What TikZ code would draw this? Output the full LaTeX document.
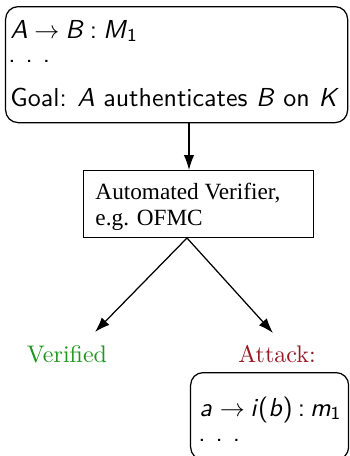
\documentclass[tikz,border=0pt]{standalone}
\usepackage{fontspec}
\newfontfamily\tnr{Liberation Serif}
\usetikzlibrary{arrows.meta}
\definecolor{vgreen}{RGB}{30,150,30}
\definecolor{ared}{RGB}{150,25,35}
\newcommand{\mv}[1]{\textit{#1}}
\newcommand{\sfsize}{\sffamily\fontsize{10.4}{12}\selectfont}
\newcommand{\mydots}{.\hspace{4pt}.\hspace{4pt}.}
\begin{document}
\begin{tikzpicture}[x=0.4pt,y=-0.4pt,
  rbox/.style={draw,line width=0.5pt,rounded corners=5pt,inner sep=0pt,anchor=north west},
  sbox/.style={draw,line width=0.5pt,inner sep=0pt,anchor=north west},
  sftext/.style={anchor=base west,inner sep=0pt,font=\sfsize},
  rmtext/.style={anchor=base west,inner sep=0pt,font=\tnr\fontsize{9.3}{11}\selectfont},
  lbl/.style={anchor=base,inner sep=0pt,font=\fontsize{9.6}{11}\selectfont},
  arr/.style={line width=0.5pt,-{Latex[length=6pt,width=4.2pt]}}]
\useasboundingbox (0,0) rectangle (350,456);
% top box
\node[rbox,minimum width=136.8pt,minimum height=46.4pt] (top) at (5,6) {};
\node[sftext] (t1) at (10,38) {\mv{A}\hspace{2.6pt}$\rightarrow$\hspace{2.4pt}\mv{B}\hspace{2.4pt}:\hspace{2.4pt}\mv{M}\textsubscript{1}};
\node[sftext] (t2) at (8,62) {\mydots};
\node[sftext] (t3) at (10,106) {Goal:\hspace{4.2pt}\mv{A} authenticates \mv{B} on \mv{K}};
% middle box
\node[sbox,minimum width=92pt,minimum height=26.8pt] (mid) at (83,170) {};
\node[rmtext] (m1) at (95,199) {Automated Verifier,};
\node[rmtext] (m2) at (95,225) {e.g. OFMC};
% labels
\node[lbl,text=vgreen] (ver) at (67,362) {Verified};
\node[lbl,text=ared] (att) at (277,362) {Attack:};
% attack box
\node[rbox,minimum width=63.2pt,minimum height=34.8pt] (abox) at (190,372) {};
\node[sftext] (a1) at (199,416) {\mv{a}\hspace{3pt}$\rightarrow$\hspace{2.2pt}\mv{i}(\mv{b})\hspace{2pt}:\hspace{2pt}\mv{m}\textsubscript{1}};
\node[sftext] (a2) at (198,441) {\mydots};
% connectors
\coordinate (cx) at (189,0);
\coordinate (split) at (187,238);
\coordinate (vtip) at (95,332);
\coordinate (atip) at (273,333);
\draw[arr] (top.south -| cx) -- (mid.north -| cx);
\draw[arr] (split) -- (vtip);
\draw[arr] (split) -- (atip);
\end{tikzpicture}
\end{document}
